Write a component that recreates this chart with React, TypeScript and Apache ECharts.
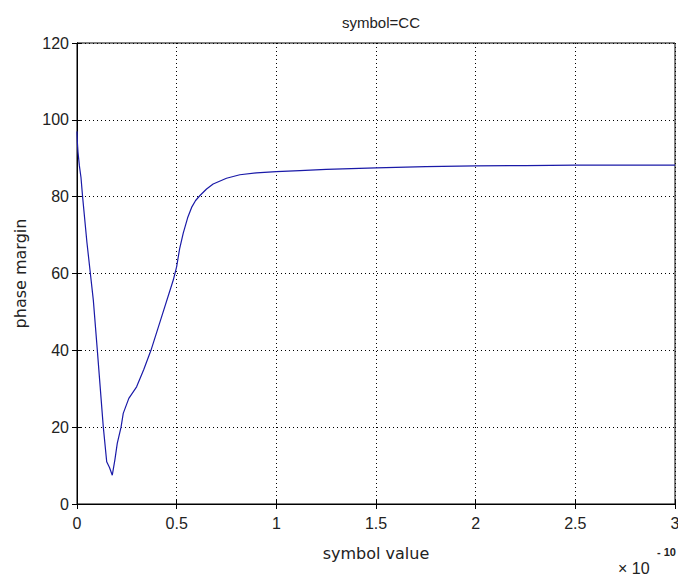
import React, { useEffect, useRef } from "react";
import * as echarts from "echarts";

// x values in units of 1e-10
const xValues = [0, 0.002, 0.005, 0.012, 0.02, 0.028, 0.05, 0.082, 0.102, 0.132, 0.149, 0.163, 0.177, 0.19, 0.202, 0.221, 0.232, 0.26, 0.299, 0.335, 0.371, 0.42, 0.483, 0.5, 0.515, 0.533, 0.555, 0.575, 0.595, 0.617, 0.65, 0.683, 0.75, 0.817, 0.9, 1.0, 1.118, 1.25, 1.5, 1.75, 2.0, 2.25, 2.5, 2.75, 3.0];
const phaseMargin = [97, 94, 91.6, 88, 85, 80, 68, 53, 40, 20, 11, 9.5, 7.5, 11.5, 15.8, 20, 23.6, 27.5, 30.5, 35, 40, 48, 58.3, 61.8, 66.5, 70.5, 74.5, 77.2, 79, 80.3, 82, 83.3, 84.8, 85.7, 86.2, 86.5, 86.8, 87.1, 87.5, 87.8, 88, 88.1, 88.2, 88.2, 88.2];
const xTicks = [0, 0.5, 1, 1.5, 2, 2.5, 3];
const yTicks = [0, 20, 40, 60, 80, 100, 120];

export default function App() {
  const ref = useRef<HTMLDivElement>(null);
  useEffect(() => {
    const chart = echarts.init(ref.current!, null, { renderer: "svg" });
    const font = "Liberation Sans, Arial, sans-serif";
    const nameFont = "DejaVu Sans, sans-serif";
    const labelColor = "#222";
    const data = xValues.map((x, i) => [x, phaseMargin[i]]);
    const tickCommon = { show: true, inside: true, length: 5, lineStyle: { color: "#000", width: 1 } };
    const split = { show: true, lineStyle: { color: "#000", type: [1, 3] as any, width: 1 } };
    chart.setOption({
      animation: false,
      backgroundColor: "#fff",
      title: {
        text: "symbol=CC",
        left: 376,
        textAlign: "center",
        top: 10,
        textStyle: { fontFamily: font, fontSize: 15, fontWeight: "normal", color: labelColor },
      },
      grid: {
        left: 77,
        right: 3,
        top: 43,
        bottom: 72,
        show: true,
        borderColor: "#000",
        borderWidth: 1,
        backgroundColor: "#fff",
        outerBoundsMode: "none",
        containLabel: false,
      },
      xAxis: [
        {
          type: "value",
          min: 0,
          max: 3,
          interval: 0.5,
          axisLine: { show: true, lineStyle: { color: "#000" } },
          axisTick: tickCommon,
          splitLine: split,
          axisLabel: {
            color: labelColor,
            fontFamily: font,
            fontSize: 16,
            margin: 11,
            formatter: (v: number) => (xTicks.includes(v) ? String(v) : ""),
            showMaxLabel: true,
            showMinLabel: true,
          },
          name: "symbol value",
          nameLocation: "middle",
          nameGap: 41,
          nameTextStyle: { color: labelColor, fontFamily: nameFont, fontSize: 16 },
        },
        {
          type: "value",
          position: "top",
          min: 0,
          max: 3,
          interval: 0.5,
          axisLine: { show: true, lineStyle: { color: "#000" } },
          axisTick: tickCommon,
          splitLine: { show: false },
          axisLabel: { show: false },
        },
      ],
      yAxis: [
        {
          type: "value",
          min: 0,
          max: 120,
          interval: 20,
          axisLine: { show: true, lineStyle: { color: "#000" } },
          axisTick: tickCommon,
          splitLine: split,
          axisLabel: {
            color: labelColor,
            fontFamily: font,
            fontSize: 16,
            margin: 8,
            formatter: (v: number) => (yTicks.includes(v) ? String(v) : ""),
          },
          name: "phase margin",
          nameLocation: "middle",
          nameGap: 49,
          nameRotate: 90,
          nameTextStyle: { color: labelColor, fontFamily: nameFont, fontSize: 16 },
        },
        {
          type: "value",
          position: "right",
          min: 0,
          max: 120,
          interval: 20,
          axisLine: { show: true, lineStyle: { color: "#000" } },
          axisTick: tickCommon,
          splitLine: { show: false },
          axisLabel: { show: false },
        },
      ],
      graphic: [
        {
          type: "text",
          left: 618,
          top: 560,
          style: { text: "× 10", fontFamily: font, fontSize: 16, fill: labelColor },
        },
        {
          type: "text",
          left: 657,
          top: 546,
          style: { text: "- 10", fontFamily: font, fontSize: 11, fontWeight: "bold", fill: labelColor },
        },
      ],
      series: [
        {
          type: "line",
          data,
          xAxisIndex: 0,
          yAxisIndex: 0,
          showSymbol: false,
          smooth: false,
          lineStyle: { color: "#1a1aa8", width: 1.2 },
        },
      ],
    });
    return () => chart.dispose();
  }, []);
  return <div ref={ref} style={{ position: "fixed", left: 0, top: 0, width: 678, height: 576 }} />;
}
